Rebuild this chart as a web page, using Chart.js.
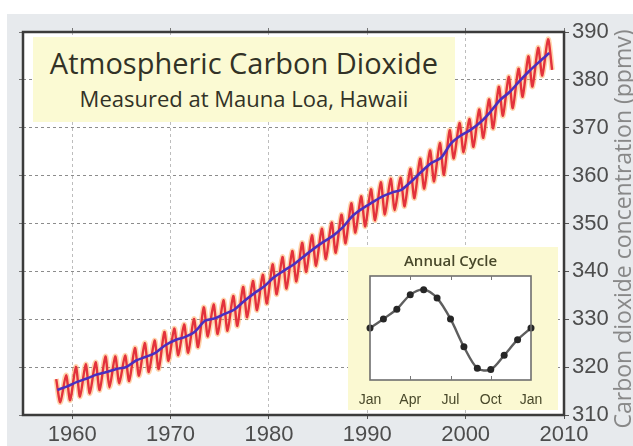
<!DOCTYPE html>
<html>
<head>
<meta charset="utf-8">
<script src="https://cdn.jsdelivr.net/npm/chart.js@4.4.0/dist/chart.umd.min.js"></script>
<style>
html, body { margin: 0; padding: 0; width: 633px; height: 446px; overflow: hidden; background: #fff; }
#panel { position: absolute; left: 7px; top: 14px; width: 626px; height: 432px; background: #e7eaed; }
#main { position: absolute; left: 0; top: 0; }
#titleBox { position: absolute; left: 33px; top: 37px; width: 422px; height: 85px; background: #fbfad3;
  font-family: "Open Sans", sans-serif; color: #323226; text-align: center; }
#titleBox .t1 { font-size: 29px; line-height: 34px; padding-top: 9px; }
#titleBox .t2 { font-size: 22px; line-height: 26px; margin-top: 5px; }
#inset { position: absolute; left: 348px; top: 247px; width: 210px; height: 163px; background: #fbf9d2; }
#inset canvas { position: absolute; left: 0; top: 0; }
#yTitle { position: absolute; left: 402px; top: 216px; width: 440px; height: 26px; line-height: 26px; text-align: center;
  transform: rotate(-90deg); font-family: "Open Sans", sans-serif; font-size: 23px; color: #888; white-space: nowrap; }
</style>
</head>
<body>
<div id="panel"></div>
<canvas id="main" width="633" height="446"></canvas>
<div id="titleBox">
  <div class="t1">Atmospheric Carbon Dioxide</div>
  <div class="t2">Measured at Mauna Loa, Hawaii</div>
</div>
<div id="inset"><canvas id="cycle" width="210" height="163"></canvas></div>
<div id="yTitle">Carbon dioxide concentration (ppmv)</div>

<script>
// Mauna Loa record (ppmv)
const years = [1958, 1959, 1960, 1961, 1962, 1963, 1964, 1965, 1966, 1967,
    1968, 1969, 1970, 1971, 1972, 1973, 1974, 1975, 1976, 1977,
    1978, 1979, 1980, 1981, 1982, 1983, 1984, 1985, 1986, 1987,
    1988, 1989, 1990, 1991, 1992, 1993, 1994, 1995, 1996, 1997,
    1998, 1999, 2000, 2001, 2002, 2003, 2004, 2005, 2006, 2007, 2008];

// yearly average (blue line)
const annualMean = [315.24, 315.97, 316.91, 317.64, 318.45, 318.99, 319.62, 320.04, 321.38, 322.16,
    323.04, 324.62, 325.68, 326.32, 327.45, 329.68, 330.18, 331.11, 332.04, 333.83,
    335.40, 336.84, 338.75, 340.11, 341.45, 343.05, 344.65, 346.12, 347.42, 349.19,
    351.57, 353.12, 354.39, 355.61, 356.45, 357.10, 358.83, 360.82, 362.61, 363.73,
    366.70, 368.38, 369.55, 371.14, 373.28, 375.80, 377.52, 379.80, 381.90, 383.79, 385.60];

// seasonal high (May) and low (October) of the monthly record (red line)
const mayPeak = [317.50, 318.29, 320.04, 320.58, 321.01, 322.25, 322.24, 322.41, 324.00, 325.00,
    325.57, 327.34, 328.07, 328.92, 330.07, 332.48, 333.09, 333.97, 334.87, 336.75,
    338.01, 339.29, 341.47, 343.01, 344.25, 345.96, 347.55, 348.92, 350.20, 351.84,
    354.22, 355.67, 357.16, 358.60, 359.34, 359.57, 361.41, 363.53, 365.27, 366.79,
    369.47, 371.00, 371.82, 373.82, 375.93, 378.54, 380.63, 382.33, 384.92, 386.71, 388.50];
const octTrough = [312.66, 313.10, 313.83, 314.50, 315.20, 315.80, 316.60, 317.10, 318.20, 318.95,
    319.60, 321.30, 322.50, 323.00, 324.20, 326.40, 326.90, 327.60, 328.60, 330.40,
    331.90, 333.30, 335.20, 336.40, 337.90, 339.90, 341.20, 342.60, 343.90, 345.90,
    348.10, 349.40, 350.70, 351.90, 352.80, 353.60, 355.30, 357.30, 358.80, 360.20,
    363.60, 364.90, 366.00, 367.90, 369.90, 372.50, 374.10, 376.50, 378.60, 380.90, 382.10];
const PEAK_MONTH = 5;
const TROUGH_MONTH = 10;

// inset: average annual cycle, deviation from yearly mean (ppmv)
const cycleMonths = ['Jan', 'Feb', 'Mar', 'Apr', 'May', 'Jun', 'Jul', 'Aug', 'Sep', 'Oct', 'Nov', 'Dec', 'Jan'];
const cycleValues = [0, 0.7, 1.45, 2.55, 2.95, 2.3, 0.7, -1.45, -3.1, -3.2, -2.1, -0.9, 0];

Chart.defaults.font.family = 'Liberation Sans';

// monthly zig-zag and yearly trend as {x, y} points
const monthly = [];
years.forEach((yr, i) => {
    monthly.push({ x: yr + (PEAK_MONTH - 0.5) / 12, y: mayPeak[i] });
    monthly.push({ x: yr + (TROUGH_MONTH - 0.5) / 12, y: octTrough[i] });
});
const trend = years.map((yr, i) => ({ x: yr + 0.5, y: annualMean[i] }));

// white plot area and dark frame round it
const framePlugin = {
    id: 'frame',
    beforeDraw(chart, args, opts) {
        const a = chart.chartArea, ctx = chart.ctx;
        ctx.save();
        ctx.fillStyle = '#ffffff';
        ctx.fillRect(a.left, a.top, a.right - a.left, a.bottom - a.top);
        ctx.restore();
    },
    afterDraw(chart, args, opts) {
        const a = chart.chartArea, ctx = chart.ctx;
        ctx.save();
        ctx.strokeStyle = opts.color;
        ctx.lineWidth = opts.width;
        ctx.strokeRect(a.left, a.top, a.right - a.left, a.bottom - a.top);
        ctx.restore();
    }
};

new Chart(document.getElementById('main'), {
    type: 'line',
    data: {
        datasets: [
            { data: trend, borderColor: '#4a2fc0', borderWidth: 2.6, pointRadius: 0, tension: 0.3, order: 0 },
            { data: monthly, borderColor: '#e3323c', borderWidth: 2.4, pointRadius: 0, tension: 0.25, order: 1 },
            { data: monthly, borderColor: 'rgba(255, 160, 70, 0.45)', borderWidth: 5.5, pointRadius: 0, tension: 0.25, order: 2 }
        ]
    },
    options: {
        responsive: false,
        animation: false,
        layout: { padding: { left: 23, top: 32, right: 0, bottom: 0 } },
        plugins: {
            legend: { display: false },
            tooltip: { enabled: false },
            frame: { color: '#3b3b3b', width: 2.5 }
        },
        scales: {
            x: {
                type: 'linear', position: 'bottom', min: 1955, max: 2010,
                ticks: { stepSize: 10, includeBounds: false, color: '#4d4d4d', font: { size: 22 }, padding: 3,
                    maxRotation: 0, callback: v => String(v) },
                grid: { color: '#bdbdbd', tickColor: '#555', tickLength: 4 },
                border: { display: false, dash: [3, 3] },
                afterFit: s => { s.height = 31; }
            },
            y: {
                type: 'linear', position: 'right', min: 310, max: 390,
                ticks: { stepSize: 10, color: '#4d4d4d', font: { size: 22 }, padding: 3 },
                grid: { color: '#8c8c8c', tickColor: '#555', tickLength: 5 },
                border: { display: false, dash: [3, 3] },
                afterFit: s => { s.width = 69; }
            },
            xTop: {
                type: 'linear', position: 'top', min: 1955, max: 2010,
                ticks: { display: false, stepSize: 10, includeBounds: false },
                grid: { drawOnChartArea: false, tickColor: '#777', tickLength: 4 },
                border: { display: false },
                afterFit: s => { s.height = 0; }
            },
            yLeft: {
                type: 'linear', position: 'left', min: 310, max: 390,
                ticks: { display: false, stepSize: 10 },
                grid: { drawOnChartArea: false, tickColor: '#777', tickLength: 4 },
                border: { display: false },
                afterFit: s => { s.width = 0; }
            }
        }
    },
    plugins: [framePlugin]
});

// inset chart: annual cycle
const insetTicks = {
    id: 'insetTicks',
    afterDraw(chart) {
        const a = chart.chartArea, ctx = chart.ctx, xs = chart.scales.x;
        ctx.save();
        ctx.strokeStyle = '#777';
        ctx.lineWidth = 1;
        cycleMonths.forEach((m, i) => {
            if (i % 3 !== 0 || i === 0 || i === cycleMonths.length - 1) return;
            const px = Math.round(xs.getPixelForValue(i)) + 0.5;
            ctx.beginPath();
            ctx.moveTo(px, a.top); ctx.lineTo(px, a.top + 4);
            ctx.moveTo(px, a.bottom); ctx.lineTo(px, a.bottom - 4);
            ctx.stroke();
        });
        ctx.restore();
    }
};

new Chart(document.getElementById('cycle'), {
    type: 'line',
    data: {
        labels: cycleMonths,
        datasets: [{
            data: cycleValues, borderColor: '#5e5e5e', borderWidth: 2.4, tension: 0.3, clip: false,
            pointRadius: 3.5, pointBackgroundColor: '#262626', pointBorderWidth: 0
        }]
    },
    options: {
        responsive: false,
        animation: false,
        layout: { padding: { left: 22, right: 27, top: 0, bottom: 0 } },
        plugins: {
            legend: { display: false },
            tooltip: { enabled: false },
            title: { display: true, text: 'Annual Cycle', color: '#48482a',
                font: { family: 'Open Sans', size: 15, weight: '600' }, padding: { top: 6, bottom: 5 } },
            frame: { color: '#6e6e6e', width: 1.6 }
        },
        scales: {
            x: {
                type: 'category',
                ticks: { autoSkip: false, maxRotation: 0, padding: 4, color: '#48482a', font: { size: 14 },
                    callback: (v, i) => (i % 3 === 0 ? cycleMonths[i] : '') },
                grid: { display: false },
                border: { display: false },
                afterFit: s => { s.height = 30; }
            },
            y: { display: false, min: -4, max: 4 }
        }
    },
    plugins: [framePlugin, insetTicks]
});
</script>
</body>
</html>
